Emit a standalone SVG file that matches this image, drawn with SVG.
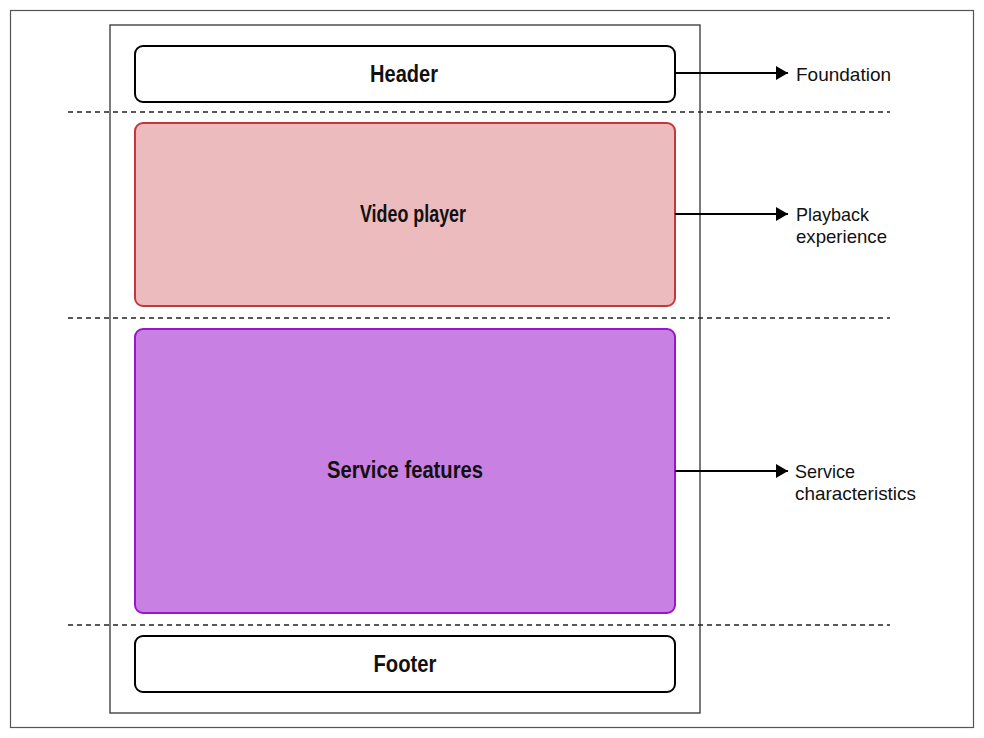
<svg xmlns="http://www.w3.org/2000/svg" width="984" height="738" viewBox="0 0 984 738">
<defs>
<style>
.lbl{font-family:"Liberation Sans",Arial,sans-serif;font-size:19px;fill:#111;}
.title{font-family:"Liberation Sans",Arial,sans-serif;font-size:23px;font-weight:bold;fill:#111;text-anchor:middle;}
.dash{stroke:#222;stroke-width:1.5;stroke-dasharray:5 4;fill:none;}
.conn{stroke:#000;stroke-width:2;fill:none;}
</style>
<marker id="ah" viewBox="0 0 12 14" refX="12" refY="7" markerWidth="12" markerHeight="14" markerUnits="userSpaceOnUse" orient="auto">
<path d="M0,0 L12,7 L0,14 Z" fill="#000"/>
</marker>
</defs>
<rect x="0" y="0" width="984" height="738" fill="#fff"/>
<rect x="10.5" y="10.5" width="963" height="717" fill="none" stroke="#555" stroke-width="1.2"/>
<rect x="110" y="25" width="590" height="688" fill="none" stroke="#333" stroke-width="1.3"/>
<g id="dividers">
<line class="dash" x1="68" y1="112" x2="890" y2="112"/>
<line class="dash" x1="68" y1="318" x2="890" y2="318"/>
<line class="dash" x1="68" y1="625" x2="890" y2="625"/>
</g>
<g id="header">
<rect x="135" y="46" width="540" height="56" rx="8" fill="#fff" stroke="#000" stroke-width="2"/>
<text class="title" x="404" y="82" textLength="68" lengthAdjust="spacingAndGlyphs">Header</text>
</g>
<g id="video-player">
<rect x="135" y="123" width="540" height="183" rx="8" fill="#ebbbbe" stroke="#c6373d" stroke-width="2"/>
<text class="title" x="413" y="222" textLength="106" lengthAdjust="spacingAndGlyphs">Video player</text>
</g>
<g id="service-features">
<rect x="135" y="329" width="540" height="284" rx="8" fill="#c980e3" stroke="#9a16c9" stroke-width="2"/>
<text class="title" x="405" y="478" textLength="156" lengthAdjust="spacingAndGlyphs">Service features</text>
</g>
<g id="footer">
<rect x="135" y="636" width="540" height="56" rx="8" fill="#fff" stroke="#000" stroke-width="2"/>
<text class="title" x="405" y="672" textLength="63" lengthAdjust="spacingAndGlyphs">Footer</text>
</g>
<g id="connectors">
<line class="conn" x1="675" y1="73" x2="788" y2="73" marker-end="url(#ah)"/>
<line class="conn" x1="675" y1="214" x2="788" y2="214" marker-end="url(#ah)"/>
<line class="conn" x1="675" y1="471" x2="788" y2="471" marker-end="url(#ah)"/>
</g>
<g id="foundation">
<text class="lbl" x="796" y="81" textLength="95" lengthAdjust="spacingAndGlyphs">Foundation</text>
</g>
<g id="playback-experience">
<text class="lbl" x="796" y="221" textLength="73" lengthAdjust="spacingAndGlyphs">Playback</text>
<text class="lbl" x="796" y="243" textLength="91" lengthAdjust="spacingAndGlyphs">experience</text>
</g>
<g id="service-characteristics">
<text class="lbl" x="795" y="478" textLength="60" lengthAdjust="spacingAndGlyphs">Service</text>
<text class="lbl" x="795" y="500" textLength="121" lengthAdjust="spacingAndGlyphs">characteristics</text>
</g>
</svg>
